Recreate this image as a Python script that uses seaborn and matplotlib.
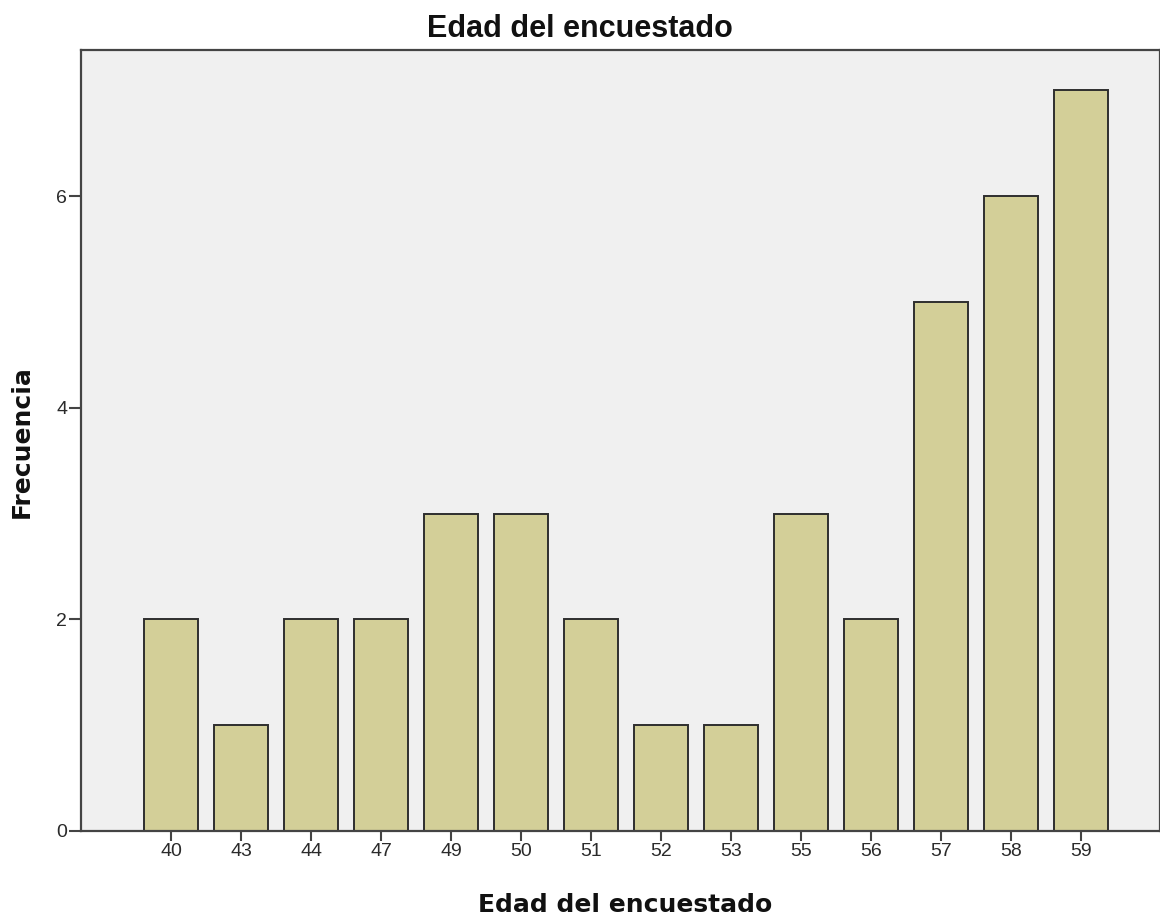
import pandas as pd
import seaborn as sns
import matplotlib.pyplot as plt

# Age of respondent and how many times it appears
edades = ["40", "43", "44", "47", "49", "50", "51", "52", "53", "55", "56", "57", "58", "59"]
frecuencias = [2, 1, 2, 2, 3, 3, 2, 1, 1, 3, 2, 5, 6, 7]
y_ticks = [0, 2, 4, 6]

datos = pd.DataFrame({"Edad": edades, "Frecuencia": frecuencias})

sns.set_style("white")
plt.rcParams["font.family"] = ["Liberation Sans", "DejaVu Sans"]

fig = plt.figure(figsize=(11.6, 9.17), dpi=100)
ax = fig.add_axes([0.0698, 0.0938, 0.9302, 0.8517])
ax.set_facecolor("#F0F0F0")

sns.barplot(x="Edad", y="Frecuencia", data=datos, order=edades,
            color="#D3CF98", saturation=1, width=0.77,
            edgecolor="#2E2E2E", linewidth=1.4, ax=ax)

ax.set_xlim(-1.29, 14.13)
ax.set_ylim(0, 7.38)
ax.set_yticks(y_ticks)

for s in ax.spines.values():
    s.set_color("#444444")
    s.set_linewidth(1.6)

ax.tick_params(axis="both", direction="out", width=1.5, color="#444444",
               labelsize=14, labelcolor="#2A2A2A", bottom=True, left=True)
ax.tick_params(axis="x", length=7, pad=2)
ax.tick_params(axis="y", length=9, pad=1)

ax.set_xlabel("")
ax.set_ylabel("")

# SPSS-style titles: Arial-like title, wider bold face for axis labels
fig.text(0.5, 0.9597, "Edad del encuestado", ha="center", va="baseline",
         fontsize=22, fontweight="bold", color="#111111")
fig.text(0.5388, 0.0055, "Edad del encuestado", ha="center", va="baseline",
         fontsize=18, fontweight="bold", color="#111111", family="DejaVu Sans")
fig.text(0.019, 0.519, "Frecuencia", ha="center", va="center", rotation=90,
         fontsize=18, fontweight="bold", color="#111111", family="DejaVu Sans")

fig.savefig("out.png", dpi=100)
plt.close()
